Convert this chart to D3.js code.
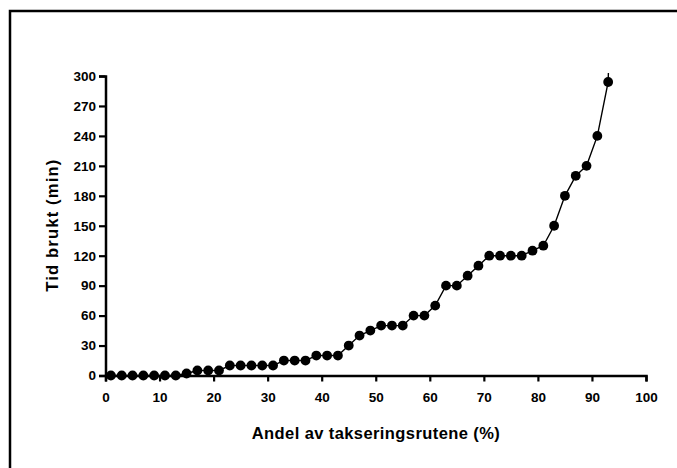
<!DOCTYPE html>
<html>
<head>
<meta charset="utf-8">
<script src="https://cdn.jsdelivr.net/npm/d3@7"></script>
<style>
  html, body { margin: 0; padding: 0; background: #fff; }
  svg { display: block; }
  text { font-family: "Liberation Sans", Arial, sans-serif; font-weight: bold; fill: #000; }
</style>
</head>
<body>
<div id="chart"></div>
<script>
// Share of survey squares covered (%) vs. time spent (min)
const shareCovered = [1, 3, 5, 7, 9, 11, 13, 15, 17, 19, 21, 23, 25, 27, 29, 31,
  33, 35, 37, 39, 41, 43, 45, 47, 49, 51, 53, 55, 57, 59, 61, 63, 65, 67, 69, 71,
  73, 75, 77, 79, 81, 83, 85, 87, 89, 91, 93, 93.4];
const timeUsed = [0, 0, 0, 0, 0, 0, 0, 2, 5, 5, 5, 10, 10, 10, 10, 10,
  15, 15, 15, 20, 20, 20, 30, 40, 45, 50, 50, 50, 60, 60, 70, 90, 90, 100, 110, 120,
  120, 120, 120, 125, 130, 150, 180, 200, 210, 240, 294, 380];
const xTicks = [0, 10, 20, 30, 40, 50, 60, 70, 80, 90, 100];
const yTicks = [0, 30, 60, 90, 120, 150, 180, 210, 240, 270, 300];
const xTitle = "Andel av takseringsrutene (%)";
const yTitle = "Tid brukt (min)";

const W = 677, H = 468;
const svg = d3.select("#chart").append("svg").attr("width", W).attr("height", H);

// outer frame (left and top edges)
svg.append("path")
  .attr("d", d3.line()([[10, H + 5], [10, 11], [W + 5, 11]]))
  .attr("fill", "none").attr("stroke", "#000").attr("stroke-width", 2.5);

const x = d3.scaleLinear().domain([0, 100]).range([105.5, 646]);
const y = d3.scaleLinear().domain([0, 300]).range([375.5, 76]);

const data = shareCovered.map((v, i) => ({ x: v, y: timeUsed[i] }));

// clip so an off-scale value only shows as a line leaving the top
svg.append("clipPath").attr("id", "plotclip")
  .append("rect").attr("x", x(0) - 10).attr("y", y(303))
  .attr("width", x(100) - x(0) + 20).attr("height", y(0) - y(303) + 10);

const axisX = d3.axisBottom(x).tickValues(xTicks).tickSize(6).tickPadding(11).tickFormat(d3.format("d"));
const axisY = d3.axisLeft(y).tickValues(yTicks).tickSize(6.5).tickPadding(3).tickFormat(d3.format("d"));

const gx = svg.append("g").attr("transform", `translate(0,${y(0)})`).call(axisX);
const gy = svg.append("g").attr("transform", `translate(${x(0)},0)`).call(axisY);
[gx, gy].forEach(g => {
  g.select(".domain").attr("stroke", "#000").attr("stroke-width", 2.5);
  g.selectAll(".tick line").attr("stroke", "#000").attr("stroke-width", 2.2);
  g.selectAll(".tick text").style("font-size", "13.5px")
    .style("font-family", '"Liberation Sans", Arial, sans-serif').style("font-weight", "bold");
});

// curve
svg.append("path")
  .datum(data)
  .attr("clip-path", "url(#plotclip)")
  .attr("fill", "none").attr("stroke", "#000").attr("stroke-width", 1.4)
  .attr("d", d3.line().x(d => x(d.x)).y(d => y(d.y)));

// markers (in-range values only)
svg.append("g").selectAll("circle")
  .data(data.filter(d => d.y <= 300))
  .join("circle")
  .attr("cx", d => x(d.x)).attr("cy", d => y(d.y)).attr("r", 4.9)
  .attr("fill", "#000");

// axis titles
svg.append("text")
  .attr("x", (x(0) + x(100)) / 2).attr("y", 439)
  .attr("text-anchor", "middle").style("font-size", "16.5px")
  .attr("textLength", 248).attr("lengthAdjust", "spacing")
  .text(xTitle);

svg.append("text")
  .attr("transform", `translate(58,${(y(0) + y(300)) / 2}) rotate(-90)`)
  .attr("text-anchor", "middle").style("font-size", "16.5px")
  .attr("textLength", 132).attr("lengthAdjust", "spacing")
  .text(yTitle);
</script>
</body>
</html>
